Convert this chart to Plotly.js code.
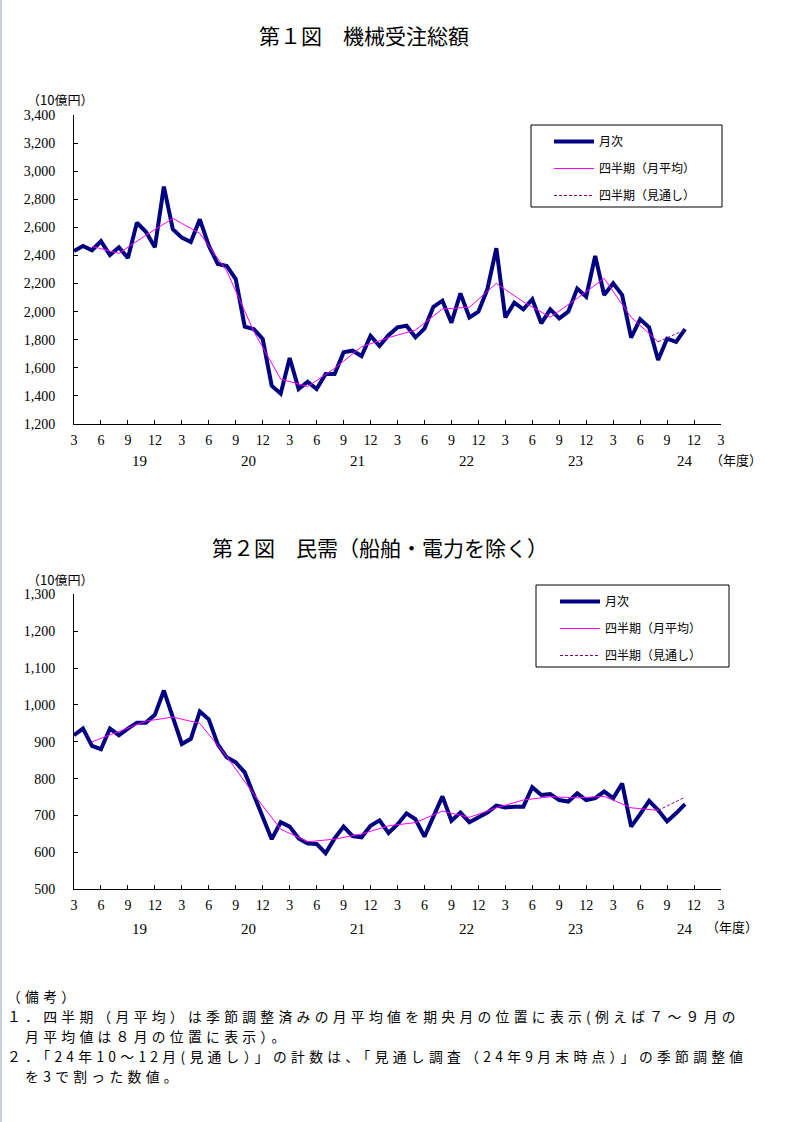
<!DOCTYPE html>
<html>
<head>
<meta charset="utf-8">
<script src="https://cdn.plot.ly/plotly-3.0.1.min.js"></script>
<style>
html,body{margin:0;padding:0;background:#fff;}
#chart{width:786px;height:1122px;}
.annotation-text[style*="font-size: 13.8px"]{letter-spacing:4.3px;}
</style>
</head>
<body>
<div id="chart"></div>
<script>
// ---- data (month index 0 = first "3" tick) ----
const monthTickText = ['3','6','9','12'];
const fiscalYears = ['19','20','21','22','23','24'];

const totalMonthly = [2432,2467,2437,2501,2403,2458,2382,2633,2569,2458,2890,2586,2527,2496,2657,2470,2339,2325,2232,1893,
  1876,1805,1473,1416,1670,1449,1501,1449,1556,1556,1710,1722,1684,1827,1755,1832,1888,1900,1817,1879,
  2035,2078,1921,2130,1959,2000,2159,2451,1959,2064,2016,2088,1917,2016,1952,2000,2164,2106,2396,2118,
  2201,2118,1815,1945,1888,1656,1807,1784,1876];
const totalQuarterly = [2465,2415,2544,2664,2557,2290,1860,1520,1467,1596,1750,1815,1869,2019,2031,2201,2070,1960,2095,2237,1960,1786];
const totalOutlook = [1786,1870];

const privMonthly = [918,936,889,880,936,918,936,952,952,973,1039,968,894,908,982,961,893,858,844,817,
  756,692,636,682,670,638,624,623,598,638,670,644,641,672,687,653,676,706,690,643,
  697,752,686,708,682,694,708,727,722,724,724,777,756,758,742,738,760,742,747,765,
  747,787,670,704,740,715,684,706,731];
const privQuarterly = [900,928,956,967,950,860,758,663,629,636,650,672,681,712,695,721,742,751,748,752,721,714];
const privOutlook = [714,750];

const legendNames = ['月次','四半期（月平均）','四半期（見通し）'];
const notes = [
  '（備考）',
  '１．四半期（月平均）は季節調整済みの月平均値を期央月の位置に表示(例えば７～９月の',
  '　月平均値は８月の位置に表示）。',
  '２．「24年10～12月(見通し）」の計数は、「見通し調査（24年9月末時点）」の季節調整値',
  '　を3で割った数値。'
];

// ---- helpers ----
const W = 786, H = 1122;
const px = x => x / W;
const py = y => 1 - y / H;
const FONT = "'Noto Sans CJK JP', 'Noto Sans', sans-serif";
const NUMFONT = "'Liberation Serif', 'DejaVu Serif', serif";
const monthIdx = arr => arr.map((_, i) => i);
const quarterIdx = arr => arr.map((_, i) => 2 + 3 * i);
const outlookIdx = (q) => { const s = 2 + 3 * (q.length - 1); return [s, s + 3]; };

function traces(monthly, quarterly, outlook, xa, ya, leg, suffix) {
  return [
    {x: monthIdx(monthly), y: monthly, type: 'scatter', mode: 'lines', name: legendNames[0],
     xaxis: xa, yaxis: ya, legend: leg, legendgroup: 'm' + suffix,
     line: {color: '#000080', width: 4}},
    {x: quarterIdx(quarterly), y: quarterly, type: 'scatter', mode: 'lines', name: legendNames[1],
     xaxis: xa, yaxis: ya, legend: leg, legendgroup: 'q' + suffix,
     line: {color: '#FF00FF', width: 1}},
    {x: outlookIdx(quarterly), y: outlook, type: 'scatter', mode: 'lines', name: legendNames[2],
     xaxis: xa, yaxis: ya, legend: leg, legendgroup: 'o' + suffix,
     line: {color: '#800080', width: 1, dash: '3px,2px'}}
  ];
}

const data = [
  ...traces(totalMonthly, totalQuarterly, totalOutlook, 'x', 'y', 'legend', '1'),
  ...traces(privMonthly, privQuarterly, privOutlook, 'x2', 'y2', 'legend2', '2')
];

const tickvals = []; const ticktext = [];
for (let i = 0; i <= 72; i += 3) { tickvals.push(i); ticktext.push(monthTickText[(i / 3) % 4]); }

function xaxis(anchor) {
  return {domain: [px(74), px(721)], range: [0, 72], anchor: anchor,
    tickmode: 'array', tickvals: tickvals, ticktext: ticktext,
    ticks: 'inside', ticklen: 4, tickcolor: '#000', tickwidth: 1,
    showline: true, linecolor: '#000', linewidth: 1, showgrid: false, zeroline: false,
    ticklabelstandoff: 3, tickfont: {family: NUMFONT, size: 14, color: '#000'}, fixedrange: true};
}
function yaxis(anchor, top, bottom, range, dtick) {
  return {domain: [py(bottom), py(top)], range: range, dtick: dtick, tick0: range[0], anchor: anchor,
    tickformat: ',', ticks: 'inside', ticklen: 4, tickcolor: '#000', tickwidth: 1,
    showline: true, linecolor: '#000', linewidth: 1, showgrid: false, zeroline: false,
    ticklabelstandoff: 15, tickfont: {family: NUMFONT, size: 14, color: '#000'}, fixedrange: true};
}

const annotations = [];
function addText(text, x, y, size, xanchor, family, h) {
  const a = {text: text, xref: 'paper', yref: 'paper', x: px(x), y: py(y),
    xanchor: xanchor || 'center', yanchor: 'middle', showarrow: false, align: 'left',
    font: {family: family || FONT, size: size, color: '#000'}};
  if (h) a.height = h;
  annotations.push(a);
}
addText('第１図　機械受注総額', 364, 35, 21);
addText('第２図　民需（船舶・電力を除く）', 380, 547, 21);
addText('（10億円）', 60, 99, 13, 'center', FONT, 14);
addText('（10億円）', 60, 579, 13, 'center', FONT, 14);
addText('（年度）', 736, 459, 13);
addText('（年度）', 732, 926, 13);
fiscalYears.forEach((fy, k) => {
  const xv = 7.3 + 12.14 * k;
  annotations.push({text: fy, xref: 'x', yref: 'paper', x: xv, y: py(461), showarrow: false,
    xanchor: 'center', yanchor: 'middle', font: {family: NUMFONT, size: 15, color: '#000'}});
  annotations.push({text: fy, xref: 'x2', yref: 'paper', x: xv, y: py(929), showarrow: false,
    xanchor: 'center', yanchor: 'middle', font: {family: NUMFONT, size: 15, color: '#000'}});
});
// notes
notes.forEach((t, i) => addText(t, 5, 996 + 20 * i, 13.8, 'left', FONT));

const legendCommon = {xanchor: 'left', yanchor: 'top', bgcolor: 'rgba(0,0,0,0)', borderwidth: 0,
  traceorder: 'grouped', tracegroupgap: 8, itemwidth: 40,
  font: {family: FONT, size: 12, color: '#000'}};

const layout = {
  width: W, height: H, margin: {l: 0, r: 0, t: 0, b: 0},
  paper_bgcolor: '#fff', plot_bgcolor: '#fff', showlegend: true,
  xaxis: xaxis('y'), yaxis: yaxis('x', 115, 424, [1200, 3400], 200),
  xaxis2: xaxis('y2'), yaxis2: yaxis('x2', 594.3, 889.3, [500, 1300], 100),
  legend: Object.assign({x: px(549), y: py(127)}, legendCommon),
  legend2: Object.assign({x: px(555), y: py(587)}, legendCommon),
  shapes: [
    {type: 'rect', xref: 'paper', yref: 'paper', x0: px(531), x1: px(722), y0: py(125), y1: py(207),
     line: {color: '#000', width: 1}, fillcolor: 'rgba(0,0,0,0)'},
    {type: 'rect', xref: 'paper', yref: 'paper', x0: px(536), x1: px(729), y0: py(585), y1: py(667),
     line: {color: '#000', width: 1}, fillcolor: 'rgba(0,0,0,0)'},
    {type: 'line', xref: 'paper', yref: 'paper', x0: px(1), x1: px(1), y0: 0, y1: 1,
     line: {color: '#c8d0d8', width: 2}}
  ],
  annotations: annotations
};

Plotly.newPlot('chart', data, layout, {staticPlot: true, displayModeBar: false});
</script>
</body>
</html>
